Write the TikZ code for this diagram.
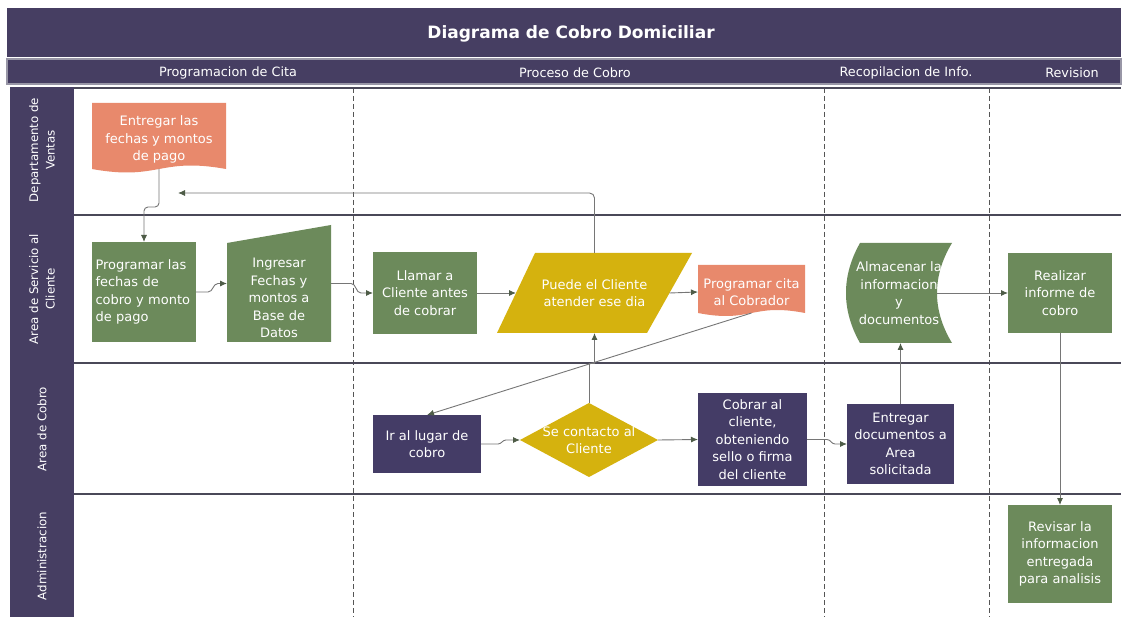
\documentclass[tikz,border=0pt]{standalone}
\usepackage{fontspec}
\setmainfont{DejaVu Sans}
\usetikzlibrary{arrows.meta,calc}

\definecolor{hdr}{HTML}{463E62}
\definecolor{hdrline}{HTML}{9896A6}
\definecolor{laneline}{HTML}{4A4858}
\definecolor{sepline}{HTML}{555555}
\definecolor{cgreen}{HTML}{6C8A5B}
\definecolor{cpurple}{HTML}{443C66}
\definecolor{csalmon}{HTML}{E8896C}
\definecolor{cgold}{HTML}{D5B20E}
\definecolor{conncol}{HTML}{767676}
\definecolor{tipcol}{HTML}{4E5C47}

\newcommand\boxfont{\fontsize{13}{17.5}\selectfont}
\newcommand\phasefont{\fontsize{12.8}{16}\selectfont}
\newcommand\lanefont{\fontsize{11.8}{16.5}\selectfont}

\tikzset{
  shp/.style={outer sep=0pt, inner sep=0pt, text=white, align=center, font=\boxfont},
  rectbox/.style={shp, fill=#1},
  % document shape with a wavy bottom edge; #1 is the wave amplitude
  docbox/.style={shp, path picture={
      \fill[csalmon] let \p1=(path picture bounding box.south west),
                         \p2=(path picture bounding box.north east),
                         \n1={\x2-\x1} in
        (\x1,\y2) -- (\x2,\y2) -- (\x2,\y1+#1)
        .. controls (\x1+0.5*\n1,\y1+#1+1.73*#1) and (\x1+0.5*\n1,\y1+#1-1.73*#1) ..
        (\x1,\y1+#1) -- cycle;}},
  % slanted decision box
  parbox/.style={shp, path picture={
      \fill[cgold] let \p1=(path picture bounding box.south west),
                       \p2=(path picture bounding box.north east) in
        (\x1+38pt,\y2) -- (\x2,\y2) -- (\x2-45pt,\y1) -- (\x1,\y1) -- cycle;}},
  % manual input shape
  manbox/.style={shp, path picture={
      \fill[cgreen] let \p1=(path picture bounding box.south west),
                        \p2=(path picture bounding box.north east) in
        (\x1,\y2-18pt) -- (\x2,\y2) -- (\x2,\y1) -- (\x1,\y1) -- cycle;}},
  % stored data shape
  storebox/.style={shp, path picture={
      \fill[cgreen] let \p1=(path picture bounding box.south west),
                        \p2=(path picture bounding box.north east) in
        (\x1+14pt,\y2) -- (\x2,\y2)
        .. controls (\x2-20pt,\y2-33pt) and (\x2-20pt,\y1+33pt) .. (\x2,\y1)
        -- (\x1+14pt,\y1)
        .. controls (\x1-4.7pt,\y1+33pt) and (\x1-4.7pt,\y2-33pt) .. (\x1+14pt,\y2)
        -- cycle;}},
  diabox/.style={shp, path picture={
      \fill[cgold] (path picture bounding box.west) -- (path picture bounding box.north)
        -- (path picture bounding box.east) -- (path picture bounding box.south) -- cycle;}},
  ttl/.style={text=white, font=\fontsize{17}{20}\selectfont\bfseries},
  phase/.style={text=white, font=\phasefont},
  lanelbl/.style={text=white, font=\lanefont, align=center, rotate=90},
  lane/.style={draw=laneline, line width=2.5pt},
  sepv/.style={draw=sepline, line width=0.8pt, dash pattern=on 5pt off 3pt},
  conn/.style={draw=conncol, line width=0.9pt,
    -{Latex[length=7pt,width=6pt,color=tipcol]}},
}

\begin{document}
\begin{tikzpicture}[x=1pt,y=-1pt]
\useasboundingbox (0,0) rectangle (1130,617);
\fill[white] (0,0) rectangle (1130,617);

% title and phase header
\fill[hdr] (7,8) rectangle (1121,57);
\filldraw[fill=hdr, draw=hdrline, line width=1.5pt] (7,59) rectangle (1121,84);
\node[ttl] (title) at (571,34) {Diagrama de Cobro Domiciliar};
\node[phase] (ph1) at (228,73) {Programacion de Cita};
\node[phase] (ph2) at (575,73) {Proceso de Cobro};
\node[phase] (ph3) at (906,73) {Recopilacion de Info.};
\node[phase] (ph4) at (1072,73) {Revision};

% lane header column
\fill[hdr] (10,87) rectangle (74,617);
\node[lanelbl] (lane1) at (42,150) {Departamento de\\Ventas};
\node[lanelbl] (lane2) at (42,289) {Area de Servicio al\\Cliente};
\node[lanelbl] (lane3) at (42,429) {Area de Cobro};
\node[lanelbl] (lane4) at (42,556) {Administracion};

% phase separators
\draw[sepv] (353,88) -- (353,617);
\draw[sepv] (824,88) -- (824,617);
\draw[sepv] (989,88) -- (989,617);

% lane separators
\draw[lane] (74,88) -- (1121,88);
\draw[lane] (74,215) -- (1121,215);
\draw[lane] (74,363) -- (1121,363);
\draw[lane] (74,494) -- (1121,494);

% process steps
\node[docbox=7pt, minimum width=134pt, minimum height=73pt] (ent) at (159,139.5)
  {Entregar las\\fechas y montos\\de pago};
\node[rectbox=cgreen, minimum width=104pt, minimum height=100pt, text width=97pt, align=left]
  (prog) at (144,292) {Programar las\\fechas de\\cobro y monto\\de pago};
\node[manbox, minimum width=104pt, minimum height=117pt] (ingr) at (279,283.5)
  {\rule{0pt}{38.5pt}Ingresar\\Fechas y\\montos a\\Base de\\Datos};
\node[rectbox=cgreen, minimum width=104pt, minimum height=82pt] (llam) at (425,293)
  {Llamar a\\Cliente antes\\de cobrar};
\node[parbox, minimum width=195pt, minimum height=80pt] (par) at (594.5,293)
  {Puede el Cliente\\atender ese dia};
\node[docbox=6pt, minimum width=107pt, minimum height=54pt] (cita) at (751.5,292)
  {Programar cita\\al Cobrador};
\node[storebox, minimum width=106pt, minimum height=100pt] (alm) at (899,293)
  {Almacenar la\\informacion\\y\\documentos};
\node[rectbox=cgreen, minimum width=104pt, minimum height=80pt] (real) at (1060,293)
  {Realizar\\informe de\\cobro};
\node[rectbox=cpurple, minimum width=108pt, minimum height=58pt] (ir) at (427,444)
  {Ir al lugar de\\cobro};
\node[diabox, minimum width=138pt, minimum height=74pt] (dia) at (589,440)
  {Se contacto al\\Cliente};
\node[rectbox=cpurple, minimum width=109pt, minimum height=93pt] (cob) at (752.5,439.5)
  {Cobrar al\\cliente,\\obteniendo\\sello o firma\\del cliente};
\node[rectbox=cpurple, minimum width=107pt, minimum height=80pt] (entd) at (900.5,444)
  {Entregar\\documentos a\\Area\\solicitada};
\node[rectbox=cgreen, minimum width=104pt, minimum height=98pt] (rev) at (1060,554)
  {Revisar la\\informacion\\entregada\\para analisis};

% connectors
\coordinate (back) at (178,193);
\draw[conn, rounded corners=4pt] ([yshift=7pt]ent.south) -- ++(0,38) -| (prog.north);
\draw[conn] (prog.east) -- ++(12,0) to[out=0,in=180] ++(10,-8.5) -- (ingr.west);
\draw[conn] (ingr.east) -- ++(20,0) to[out=0,in=180] ++(10,9.5) -- (llam.west);
\draw[conn] (llam.east) -- ([xshift=19pt]par.west);
\draw[conn] ([xshift=-22.5pt]par.east) -- (cita.west);
\draw[conn, rounded corners=5pt] (par.north) |- (back);
\draw[conn] ([yshift=6pt]cita.south) -- (ir.north);
\draw[conn] (dia.north) -- ++(0,-40) -- ++(5.5,0) -- (par.south);
\draw[conn] (ir.east) -- ++(17,0) to[out=0,in=180] ++(8,-4) -- (dia.west);
\draw[conn] (dia.east) -- (cob.west);
\draw[conn] (cob.east) -- ++(20,0) to[out=0,in=180] ++(8,4.5) -- (entd.west);
\draw[conn] (entd.north) -- (entd.north |- alm.south);
\draw[conn] ([xshift=-15pt]alm.east) -- (real.west);
\draw[conn] (real.south) -- (rev.north);
\end{tikzpicture}
\end{document}
